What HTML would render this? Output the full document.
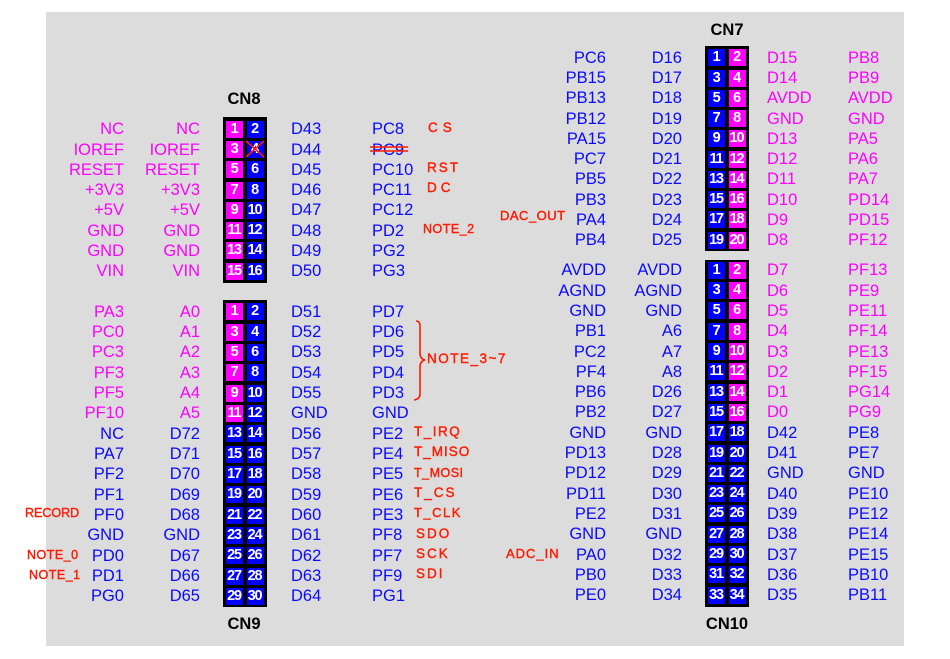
<!DOCTYPE html>
<html><head><meta charset="utf-8">
<style>
*{margin:0;padding:0;box-sizing:border-box}
body{width:950px;height:659px;background:#fff;position:relative;overflow:hidden;font-family:"Liberation Sans",Arial,sans-serif}
#bg{position:absolute;left:46px;top:12px;width:858px;height:634px;background:#dcdcdc}
.r{position:absolute;left:0;width:950px;height:20px;line-height:20px;font-size:16.5px}
.r span{position:absolute;top:0;white-space:nowrap}
.c1{left:0;width:124px;text-align:right}
.c2{left:0;width:200px;text-align:right}
.c3{left:291px}
.c4{left:372px}
.d1{left:0;width:606px;text-align:right}
.d2{left:0;width:682px;text-align:right}
.d3{left:767px}
.d4{left:848px}
.m{color:#ff00ff}
.b{color:#0a0aff}
.r span.p{top:1.5px;width:17px;height:17px;line-height:17px;text-align:center;color:#fff;font-weight:bold;font-size:14.5px;letter-spacing:-1.2px;text-indent:-1px}
.pm{background:#ff00ff}
.pb{background:#0000ff}
.box{position:absolute;background:#000;width:44px}
.ttl{position:absolute;font-weight:bold;font-size:16.5px;color:#000;width:80px;text-align:center}
.red{position:absolute;color:#ff1a00;font-size:13.5px;letter-spacing:2px;white-space:nowrap;line-height:14px;-webkit-text-stroke:0.4px #ff1a00}
</style></head><body>
<div id="bg"></div>

<div class="ttl" style="left:204px;top:90px">CN8</div>
<div class="ttl" style="left:687px;top:21px">CN7</div>
<div class="ttl" style="left:204px;top:615px">CN9</div>
<div class="ttl" style="left:687px;top:615px">CN10</div>

<div class="box" style="left:223px;top:117px;height:166px"></div>
<div class="box" style="left:223px;top:300px;height:307px"></div>
<div class="box" style="left:705px;top:46px;height:205px"></div>
<div class="box" style="left:705px;top:260px;height:347px"></div>

<!-- CN8 -->
<div class="r" style="top:119.3px"><span class="c1 m">NC</span><span class="c2 m">NC</span><span class="p pm" style="left:226px">1</span><span class="p pb" style="left:246.5px">2</span><span class="c3 b">D43</span><span class="c4 b">PC8</span></div>
<div class="r" style="top:139.5px"><span class="c1 m">IOREF</span><span class="c2 m">IOREF</span><span class="p pm" style="left:226px">3</span><span class="p pb" style="left:246.5px">4</span><span class="c3 b">D44</span><span class="c4 b">PC9</span></div>
<div class="r" style="top:159.8px"><span class="c1 m">RESET</span><span class="c2 m">RESET</span><span class="p pm" style="left:226px">5</span><span class="p pb" style="left:246.5px">6</span><span class="c3 b">D45</span><span class="c4 b">PC10</span></div>
<div class="r" style="top:180px"><span class="c1 m">+3V3</span><span class="c2 m">+3V3</span><span class="p pm" style="left:226px">7</span><span class="p pb" style="left:246.5px">8</span><span class="c3 b">D46</span><span class="c4 b">PC11</span></div>
<div class="r" style="top:200.3px"><span class="c1 m">+5V</span><span class="c2 m">+5V</span><span class="p pm" style="left:226px">9</span><span class="p pb" style="left:246.5px">10</span><span class="c3 b">D47</span><span class="c4 b">PC12</span></div>
<div class="r" style="top:220.5px"><span class="c1 m">GND</span><span class="c2 m">GND</span><span class="p pm" style="left:226px">11</span><span class="p pb" style="left:246.5px">12</span><span class="c3 b">D48</span><span class="c4 b">PD2</span></div>
<div class="r" style="top:240.8px"><span class="c1 m">GND</span><span class="c2 m">GND</span><span class="p pm" style="left:226px">13</span><span class="p pb" style="left:246.5px">14</span><span class="c3 b">D49</span><span class="c4 b">PG2</span></div>
<div class="r" style="top:261px"><span class="c1 m">VIN</span><span class="c2 m">VIN</span><span class="p pm" style="left:226px">15</span><span class="p pb" style="left:246.5px">16</span><span class="c3 b">D50</span><span class="c4 b">PG3</span></div>

<!-- CN9 -->
<div class="r" style="top:301.7px"><span class="c1 m">PA3</span><span class="c2 m">A0</span><span class="p pm" style="left:226px">1</span><span class="p pb" style="left:246.5px">2</span><span class="c3 b">D51</span><span class="c4 b">PD7</span></div>
<div class="r" style="top:322px"><span class="c1 m">PC0</span><span class="c2 m">A1</span><span class="p pm" style="left:226px">3</span><span class="p pb" style="left:246.5px">4</span><span class="c3 b">D52</span><span class="c4 b">PD6</span></div>
<div class="r" style="top:342.4px"><span class="c1 m">PC3</span><span class="c2 m">A2</span><span class="p pm" style="left:226px">5</span><span class="p pb" style="left:246.5px">6</span><span class="c3 b">D53</span><span class="c4 b">PD5</span></div>
<div class="r" style="top:362.7px"><span class="c1 m">PF3</span><span class="c2 m">A3</span><span class="p pm" style="left:226px">7</span><span class="p pb" style="left:246.5px">8</span><span class="c3 b">D54</span><span class="c4 b">PD4</span></div>
<div class="r" style="top:383px"><span class="c1 m">PF5</span><span class="c2 m">A4</span><span class="p pm" style="left:226px">9</span><span class="p pb" style="left:246.5px">10</span><span class="c3 b">D55</span><span class="c4 b">PD3</span></div>
<div class="r" style="top:403.4px"><span class="c1 m">PF10</span><span class="c2 m">A5</span><span class="p pm" style="left:226px">11</span><span class="p pb" style="left:246.5px">12</span><span class="c3 b">GND</span><span class="c4 b">GND</span></div>
<div class="r" style="top:423.7px"><span class="c1 b">NC</span><span class="c2 b">D72</span><span class="p pb" style="left:226px">13</span><span class="p pb" style="left:246.5px">14</span><span class="c3 b">D56</span><span class="c4 b">PE2</span></div>
<div class="r" style="top:444px"><span class="c1 b">PA7</span><span class="c2 b">D71</span><span class="p pb" style="left:226px">15</span><span class="p pb" style="left:246.5px">16</span><span class="c3 b">D57</span><span class="c4 b">PE4</span></div>
<div class="r" style="top:464.3px"><span class="c1 b">PF2</span><span class="c2 b">D70</span><span class="p pb" style="left:226px">17</span><span class="p pb" style="left:246.5px">18</span><span class="c3 b">D58</span><span class="c4 b">PE5</span></div>
<div class="r" style="top:484.7px"><span class="c1 b">PF1</span><span class="c2 b">D69</span><span class="p pb" style="left:226px">19</span><span class="p pb" style="left:246.5px">20</span><span class="c3 b">D59</span><span class="c4 b">PE6</span></div>
<div class="r" style="top:505px"><span class="c1 b">PF0</span><span class="c2 b">D68</span><span class="p pb" style="left:226px">21</span><span class="p pb" style="left:246.5px">22</span><span class="c3 b">D60</span><span class="c4 b">PE3</span></div>
<div class="r" style="top:525.3px"><span class="c1 b">GND</span><span class="c2 b">GND</span><span class="p pb" style="left:226px">23</span><span class="p pb" style="left:246.5px">24</span><span class="c3 b">D61</span><span class="c4 b">PF8</span></div>
<div class="r" style="top:545.7px"><span class="c1 b">PD0</span><span class="c2 b">D67</span><span class="p pb" style="left:226px">25</span><span class="p pb" style="left:246.5px">26</span><span class="c3 b">D62</span><span class="c4 b">PF7</span></div>
<div class="r" style="top:566px"><span class="c1 b">PD1</span><span class="c2 b">D66</span><span class="p pb" style="left:226px">27</span><span class="p pb" style="left:246.5px">28</span><span class="c3 b">D63</span><span class="c4 b">PF9</span></div>
<div class="r" style="top:586.3px"><span class="c1 b">PG0</span><span class="c2 b">D65</span><span class="p pb" style="left:226px">29</span><span class="p pb" style="left:246.5px">30</span><span class="c3 b">D64</span><span class="c4 b">PG1</span></div>

<!-- CN7 -->
<div class="r" style="top:47.7px"><span class="d1 b">PC6</span><span class="d2 b">D16</span><span class="p pb" style="left:708px">1</span><span class="p pm" style="left:728.5px">2</span><span class="d3 m">D15</span><span class="d4 m">PB8</span></div>
<div class="r" style="top:68px"><span class="d1 b">PB15</span><span class="d2 b">D17</span><span class="p pb" style="left:708px">3</span><span class="p pm" style="left:728.5px">4</span><span class="d3 m">D14</span><span class="d4 m">PB9</span></div>
<div class="r" style="top:88.2px"><span class="d1 b">PB13</span><span class="d2 b">D18</span><span class="p pb" style="left:708px">5</span><span class="p pm" style="left:728.5px">6</span><span class="d3 m">AVDD</span><span class="d4 m">AVDD</span></div>
<div class="r" style="top:108.5px"><span class="d1 b">PB12</span><span class="d2 b">D19</span><span class="p pb" style="left:708px">7</span><span class="p pm" style="left:728.5px">8</span><span class="d3 m">GND</span><span class="d4 m">GND</span></div>
<div class="r" style="top:128.7px"><span class="d1 b">PA15</span><span class="d2 b">D20</span><span class="p pb" style="left:708px">9</span><span class="p pm" style="left:728.5px">10</span><span class="d3 m">D13</span><span class="d4 m">PA5</span></div>
<div class="r" style="top:149px"><span class="d1 b">PC7</span><span class="d2 b">D21</span><span class="p pb" style="left:708px">11</span><span class="p pm" style="left:728.5px">12</span><span class="d3 m">D12</span><span class="d4 m">PA6</span></div>
<div class="r" style="top:169.3px"><span class="d1 b">PB5</span><span class="d2 b">D22</span><span class="p pb" style="left:708px">13</span><span class="p pm" style="left:728.5px">14</span><span class="d3 m">D11</span><span class="d4 m">PA7</span></div>
<div class="r" style="top:189.5px"><span class="d1 b">PB3</span><span class="d2 b">D23</span><span class="p pb" style="left:708px">15</span><span class="p pm" style="left:728.5px">16</span><span class="d3 m">D10</span><span class="d4 m">PD14</span></div>
<div class="r" style="top:209.8px"><span class="d1 b">PA4</span><span class="d2 b">D24</span><span class="p pb" style="left:708px">17</span><span class="p pm" style="left:728.5px">18</span><span class="d3 m">D9</span><span class="d4 m">PD15</span></div>
<div class="r" style="top:230px"><span class="d1 b">PB4</span><span class="d2 b">D25</span><span class="p pb" style="left:708px">19</span><span class="p pm" style="left:728.5px">20</span><span class="d3 m">D8</span><span class="d4 m">PF12</span></div>

<!-- CN10 -->
<div class="r" style="top:260.3px"><span class="d1 b">AVDD</span><span class="d2 b">AVDD</span><span class="p pb" style="left:708px">1</span><span class="p pm" style="left:728.5px">2</span><span class="d3 m">D7</span><span class="d4 m">PF13</span></div>
<div class="r" style="top:280.6px"><span class="d1 b">AGND</span><span class="d2 b">AGND</span><span class="p pb" style="left:708px">3</span><span class="p pm" style="left:728.5px">4</span><span class="d3 m">D6</span><span class="d4 m">PE9</span></div>
<div class="r" style="top:300.9px"><span class="d1 b">GND</span><span class="d2 b">GND</span><span class="p pb" style="left:708px">5</span><span class="p pm" style="left:728.5px">6</span><span class="d3 m">D5</span><span class="d4 m">PE11</span></div>
<div class="r" style="top:321.2px"><span class="d1 b">PB1</span><span class="d2 b">A6</span><span class="p pb" style="left:708px">7</span><span class="p pm" style="left:728.5px">8</span><span class="d3 m">D4</span><span class="d4 m">PF14</span></div>
<div class="r" style="top:341.5px"><span class="d1 b">PC2</span><span class="d2 b">A7</span><span class="p pb" style="left:708px">9</span><span class="p pm" style="left:728.5px">10</span><span class="d3 m">D3</span><span class="d4 m">PE13</span></div>
<div class="r" style="top:361.8px"><span class="d1 b">PF4</span><span class="d2 b">A8</span><span class="p pb" style="left:708px">11</span><span class="p pm" style="left:728.5px">12</span><span class="d3 m">D2</span><span class="d4 m">PF15</span></div>
<div class="r" style="top:382.1px"><span class="d1 b">PB6</span><span class="d2 b">D26</span><span class="p pb" style="left:708px">13</span><span class="p pm" style="left:728.5px">14</span><span class="d3 m">D1</span><span class="d4 m">PG14</span></div>
<div class="r" style="top:402.4px"><span class="d1 b">PB2</span><span class="d2 b">D27</span><span class="p pb" style="left:708px">15</span><span class="p pm" style="left:728.5px">16</span><span class="d3 m">D0</span><span class="d4 m">PG9</span></div>
<div class="r" style="top:422.7px"><span class="d1 b">GND</span><span class="d2 b">GND</span><span class="p pb" style="left:708px">17</span><span class="p pb" style="left:728.5px">18</span><span class="d3 b">D42</span><span class="d4 b">PE8</span></div>
<div class="r" style="top:443px"><span class="d1 b">PD13</span><span class="d2 b">D28</span><span class="p pb" style="left:708px">19</span><span class="p pb" style="left:728.5px">20</span><span class="d3 b">D41</span><span class="d4 b">PE7</span></div>
<div class="r" style="top:463.3px"><span class="d1 b">PD12</span><span class="d2 b">D29</span><span class="p pb" style="left:708px">21</span><span class="p pb" style="left:728.5px">22</span><span class="d3 b">GND</span><span class="d4 b">GND</span></div>
<div class="r" style="top:483.6px"><span class="d1 b">PD11</span><span class="d2 b">D30</span><span class="p pb" style="left:708px">23</span><span class="p pb" style="left:728.5px">24</span><span class="d3 b">D40</span><span class="d4 b">PE10</span></div>
<div class="r" style="top:503.9px"><span class="d1 b">PE2</span><span class="d2 b">D31</span><span class="p pb" style="left:708px">25</span><span class="p pb" style="left:728.5px">26</span><span class="d3 b">D39</span><span class="d4 b">PE12</span></div>
<div class="r" style="top:524.2px"><span class="d1 b">GND</span><span class="d2 b">GND</span><span class="p pb" style="left:708px">27</span><span class="p pb" style="left:728.5px">28</span><span class="d3 b">D38</span><span class="d4 b">PE14</span></div>
<div class="r" style="top:544.5px"><span class="d1 b">PA0</span><span class="d2 b">D32</span><span class="p pb" style="left:708px">29</span><span class="p pb" style="left:728.5px">30</span><span class="d3 b">D37</span><span class="d4 b">PE15</span></div>
<div class="r" style="top:564.8px"><span class="d1 b">PB0</span><span class="d2 b">D33</span><span class="p pb" style="left:708px">31</span><span class="p pb" style="left:728.5px">32</span><span class="d3 b">D36</span><span class="d4 b">PB10</span></div>
<div class="r" style="top:585.1px"><span class="d1 b">PE0</span><span class="d2 b">D34</span><span class="p pb" style="left:708px">33</span><span class="p pb" style="left:728.5px">34</span><span class="d3 b">D35</span><span class="d4 b">PB11</span></div>

<!-- red annotations -->
<svg style="position:absolute;left:0;top:0" width="950" height="659">
  <g stroke="#ff1a00" stroke-width="1.6" fill="none">
    <line x1="246" y1="141" x2="264" y2="157"/>
    <line x1="264" y1="141" x2="246" y2="157"/>
    <line x1="370" y1="147" x2="408" y2="147"/>
    <line x1="370" y1="151" x2="408" y2="151"/>
    <path d="M416 321 Q420 321 420 326 L420 353 Q420 359 425 360 Q420 361 420 367 L420 394 Q420 399 414 400"/>
  </g>
</svg>
<div class="red" style="left:428px;top:121px;letter-spacing:5px">CS</div>
<div class="red" style="left:427px;top:161px">RST</div>
<div class="red" style="left:427px;top:181px;letter-spacing:4px">DC</div>
<div class="red" style="left:423px;top:222px;font-size:12.5px;letter-spacing:0.5px">NOTE_2</div>
<div class="red" style="left:500px;top:209px;font-size:13px;letter-spacing:0.5px">DAC_OUT</div>
<div class="red" style="left:427px;top:352px;font-size:13.5px;letter-spacing:1.5px">NOTE_3~7</div>
<div class="red" style="left:414px;top:425px;letter-spacing:1.5px">T_IRQ</div>
<div class="red" style="left:414px;top:445px;letter-spacing:1px">T_MISO</div>
<div class="red" style="left:414px;top:466px;font-size:12.5px;letter-spacing:0.5px">T_MOSI</div>
<div class="red" style="left:414px;top:486px;letter-spacing:2px">T_CS</div>
<div class="red" style="left:414px;top:506px;font-size:13px;letter-spacing:1.5px">T_CLK</div>
<div class="red" style="left:416px;top:527px">SDO</div>
<div class="red" style="left:416px;top:547px">SCK</div>
<div class="red" style="left:416px;top:567px">SDI</div>
<div class="red" style="left:25px;top:506px;font-size:12.5px;letter-spacing:0px">RECORD</div>
<div class="red" style="left:27px;top:548px;font-size:12.5px;letter-spacing:0.5px">NOTE_0</div>
<div class="red" style="left:29px;top:568px;font-size:12.5px;letter-spacing:0.5px">NOTE_1</div>
<div class="red" style="left:506px;top:547px;font-size:13px;letter-spacing:1px">ADC_IN</div>
</body></html>
